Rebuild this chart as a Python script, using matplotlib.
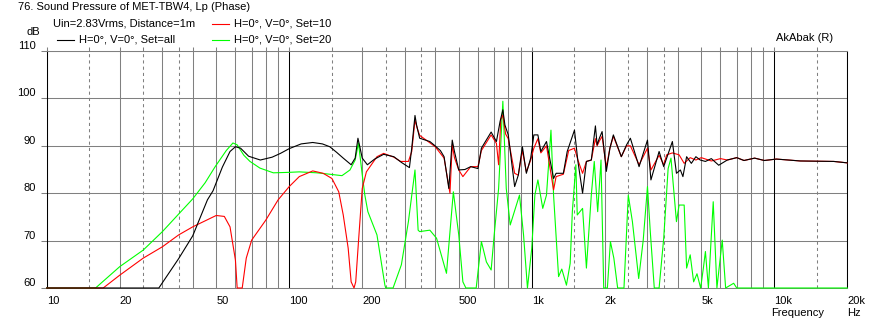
import numpy as np
import matplotlib
matplotlib.use("Agg")
import matplotlib.pyplot as plt
from matplotlib.lines import Line2D

plt.rcParams['font.family'] = ['Liberation Sans', 'DejaVu Sans']
plt.rcParams['font.size'] = 8

# Set=all (black)
f_all = [10, 29, 35, 40, 46, 48.5, 53, 57, 60, 63, 68, 76, 85, 92, 100, 112, 125, 137, 147,
         157, 167, 180, 187, 192, 196, 200, 210, 225, 245, 270, 290, 313, 320, 330, 335, 345,
         380, 395, 420, 435, 455, 470, 480, 500, 530, 560, 600, 620, 680, 715, 740, 760, 775,
         800, 850, 880, 915, 950, 990, 1020, 1060, 1090, 1150, 1230, 1260, 1350, 1400, 1500,
         1550, 1620, 1680, 1760, 1830, 1860, 1900, 1950, 2030, 2100, 2170, 2340, 2460, 2550,
         2770, 3000, 3100, 3350, 3500, 3800, 3950, 4100, 4200, 4350, 4550, 4750, 4950, 5200,
         5500, 5900, 6400, 7000, 7500, 8300, 9100, 10200, 12800, 17600, 20000]
db_all = [60, 60, 66.2, 71.0, 78.6, 80.5, 85.5, 88.8, 89.8, 89.5, 87.8, 87.0, 87.6, 88.4, 89.4,
          90.4, 90.7, 90.4, 89.8, 88.6, 87.4, 86.0, 87.4, 91.6, 89.5, 87.4, 86.0, 87.2, 88.2,
          87.7, 86.5, 85.4, 89.5, 96.4, 94.4, 91.6, 90.9, 90.2, 89.0, 87.7, 81.0, 91.2, 88.8,
          84.9, 85.0, 85.6, 85.2, 89.5, 92.9, 90.9, 95.1, 97.6, 94.4, 92.3, 81.4, 83.8, 89.8,
          84.2, 87.4, 92.3, 92.3, 88.8, 90.9, 83.1, 84.2, 84.2, 88.8, 93.3, 86.7, 80.0, 86.7,
          87.0, 94.2, 90.2, 91.6, 93.0, 84.6, 89.5, 92.3, 87.7, 90.2, 91.6, 85.6, 91.2, 82.8,
          88.8, 85.6, 90.9, 84.2, 84.9, 83.5, 87.7, 86.3, 87.7, 87.0, 86.7, 87.3, 85.9, 87.0,
          87.5, 86.9, 87.4, 86.9, 87.2, 86.8, 86.7, 86.4]

# Set=10 (red)
f_10 = [10, 17.1, 20, 25, 30, 35, 40, 50, 54, 57, 60, 61, 64, 66.5, 70, 80, 90, 100, 110, 125,
        138, 150, 160, 167, 175, 180, 185, 188, 193, 200, 208, 230, 245, 270, 288, 310, 320,
        330, 338, 345, 400, 435, 460, 470, 480, 500, 520, 560, 600, 620, 680, 715, 730, 745,
        760, 780, 800, 850, 880, 915, 950, 990, 1020, 1060, 1090, 1150, 1230, 1260, 1350,
        1420, 1500, 1550, 1620, 1680, 1760, 1830, 1860, 1900, 1950, 2030, 2100, 2170, 2340,
        2460, 2550, 2770, 3000, 3100, 3350, 3500, 3600, 3800, 4050, 4250, 4500, 4750, 5000,
        5500, 6000, 6400, 7000, 7500, 8300, 9100, 10200, 12800, 17600, 20000]
db_10 = [60, 60, 62.7, 66.3, 68.7, 71.2, 72.9, 75.3, 75.1, 72.9, 65.9, 60, 60, 66.3, 70.1,
         74.3, 78.6, 81.4, 83.5, 84.7, 84.2, 83.1, 80.3, 75.4, 68.4, 61.3, 60, 61.3, 69.8, 81.0,
         84.5, 87.7, 88.4, 87.6, 86.7, 86.7, 88.8, 95.4, 93.5, 92.2, 89.8, 87.4, 80.0, 90.2,
         87.5, 84.9, 83.5, 85.6, 85.6, 89.0, 92.3, 90.5, 86.0, 95.5, 96.5, 92.5, 91.5, 84.2,
         83.8, 89.0, 84.5, 87.0, 89.5, 91.5, 88.5, 90.0, 80.7, 83.5, 84.0, 89.0, 89.5, 87.0,
         84.2, 86.7, 87.0, 91.5, 90.0, 91.0, 92.0, 85.5, 89.5, 92.0, 87.7, 90.0, 90.0, 86.0,
         89.5, 84.9, 88.0, 86.0, 88.1, 88.5, 88.1, 86.3, 87.5, 87.0, 87.5, 86.8, 87.3, 87.0,
         87.5, 86.9, 87.4, 86.9, 87.2, 86.8, 86.7, 86.4]

# Set=20 (green)
f_20 = [10, 15.9, 20, 25, 30, 35, 40, 45, 49.5, 55, 58.6, 61, 65, 68.9, 75.7, 86, 100, 110,
        130, 147, 165, 178, 187, 193, 200, 205, 211, 230, 248, 250, 268, 290, 310, 330, 340,
        345, 380, 405, 445, 470, 475, 500, 520, 535, 590, 620, 650, 680, 700, 730, 760, 785,
        815, 890, 925, 960, 1000, 1030, 1060, 1110, 1150, 1200, 1230, 1290, 1330, 1390, 1440,
        1470, 1520, 1540, 1620, 1680, 1760, 1810, 1870, 1930, 1980, 2050, 2110, 2180, 2260,
        2400, 2500, 2600, 2760, 2880, 3000, 3080, 3200, 3350, 3500, 3650, 3750, 3950, 4050,
        4250, 4350, 4500, 4650, 4800, 4970, 5100, 5200, 5350, 5600, 5800, 6100, 6300, 6800,
        7000, 20000]
db_20 = [60, 60, 64.5, 68.0, 71.9, 75.6, 78.8, 82.2, 85.6, 89.0, 90.6, 90.2, 88.0, 86.7, 85.3,
         84.3, 84.4, 84.5, 84.3, 84.0, 83.7, 84.9, 87.0, 90.6, 83.9, 79.6, 76.1, 71.2, 60.6,
         60, 60, 64.9, 74.0, 84.9, 72.2, 71.9, 72.2, 70.5, 63.1, 77.5, 80.3, 71.2, 61.3, 60,
         60, 69.8, 65.5, 63.8, 71.2, 81.0, 99.4, 81.0, 73.3, 79.6, 71.2, 60, 68.4, 79.6, 82.8,
         76.8, 79.6, 93.3, 79.6, 62.4, 64.0, 60.6, 65.2, 76.1, 86.0, 75.4, 76.8, 64.2, 79.6,
         86.7, 76.1, 87.0, 60, 60, 69.8, 66.3, 60, 60, 79.6, 74.0, 62.0, 70.0, 81.4, 72.0, 60,
         60, 70.5, 85.2, 87.4, 74.0, 77.5, 77.5, 64.2, 67.0, 61.3, 63.0, 60, 64.2, 67.7, 60,
         78.2, 60, 70.1, 60, 61, 60, 60]

x_ticks = [10, 20, 50, 100, 200, 500, 1000, 2000, 5000, 10000, 20000]
x_labels = ['10', '20', '50', '100', '200', '500', '1k', '2k', '5k', '10k', '20k']
y_ticks = [60, 70, 80, 90, 100, 110]

W, H = 872, 326
fig = plt.figure(figsize=(W / 100, H / 100), dpi=100)
ax = fig.add_axes([46.7 / W, 38 / H, 800.6 / W, 237 / H])
ax.set_xscale('log')
ax.set_xlim(10, 20000)
ax.set_ylim(60, 110)

gray = '#808080'
decades = [10, 100, 1000, 10000, 20000]
dashed = [15, 25, 35, 150, 250, 350, 1500, 2500, 3500, 15000]
solid = [m * d for d in (10, 100, 1000) for m in range(2, 10)]
for v in solid:
    ax.axvline(v, color=gray, lw=0.75, zorder=1)
for v in dashed:
    ax.axvline(v, color=gray, lw=0.75, ls=(0, (3, 3)), zorder=1)
for v in decades:
    ax.axvline(v, color='black', lw=0.75, zorder=1.5)
for v in y_ticks[1:]:
    ax.axhline(v, color=gray, lw=0.75, zorder=1)

ax.plot(f_20, db_20, color='#00ff00', lw=0.8, clip_on=False, zorder=3)
ax.plot(f_10, db_10, color='#ff0000', lw=0.8, clip_on=False, zorder=4)
ax.plot(f_all, db_all, color='black', lw=0.8, clip_on=False, zorder=5)

for s in ('left', 'right'):
    ax.spines[s].set_color('black')
    ax.spines[s].set_linewidth(0.75)
for s in ('top', 'bottom'):
    ax.spines[s].set_color(gray)
    ax.spines[s].set_linewidth(0.75)

ax.set_xticks(x_ticks)
ax.set_xticklabels(x_labels)
ax.xaxis.set_minor_locator(matplotlib.ticker.NullLocator())
ax.tick_params(axis='x', length=0, pad=5.5, labelsize=8)
for t in ax.get_xticklabels():
    t.set_horizontalalignment('left')
ax.set_yticks(y_ticks)
ax.tick_params(axis='y', length=4, width=0.75, color=gray, pad=4, labelsize=8)
for t in ax.get_yticklabels():
    t.set_verticalalignment('bottom')

top = ax.secondary_xaxis('top')
top.set_xticks(sorted(solid + dashed + decades[:-1]))
top.xaxis.set_minor_locator(matplotlib.ticker.NullLocator())
top.set_xticklabels([])
top.tick_params(length=3, width=0.75, color=gray)
top.spines['top'].set_visible(False)

fig.text(18 / W, 1 - 7 / H, '76. Sound Pressure of MET-TBW4, Lp (Phase)', va='center', ha='left')
fig.text(26 / W, 1 - 32 / H, 'dB', va='center', ha='left')
fig.text(776 / W, 1 - 38 / H, 'AkAbak (R)', va='center', ha='left')
fig.text(771 / W, 1 - 313 / H, 'Frequency', va='center', ha='left')
fig.text(847 / W, 1 - 313 / H, 'Hz', va='center', ha='left')

fig.text(53 / W, 1 - 24 / H, 'Uin=2.83Vrms, Distance=1m', va='center', ha='left')
legend_rows = [(212, 24, '#ff0000', 'H=0°, V=0°, Set=10'),
               (57, 40, 'black', 'H=0°, V=0°, Set=all'),
               (212, 40, '#00ff00', 'H=0°, V=0°, Set=20')]
for x0, y0, c, lab in legend_rows:
    fig.add_artist(Line2D([x0 / W, (x0 + 17) / W], [1 - y0 / H, 1 - y0 / H], color=c, lw=0.8))
    fig.text((x0 + 22) / W, 1 - y0 / H, lab, va='center', ha='left')

fig.savefig('out.png', dpi=100)
